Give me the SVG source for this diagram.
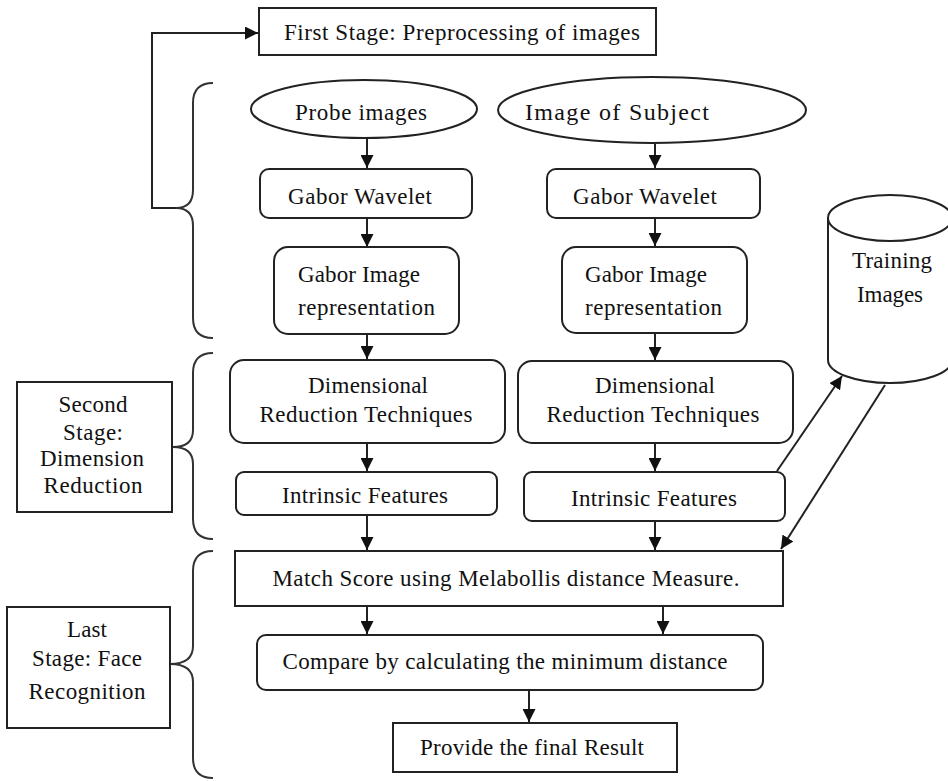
<svg xmlns="http://www.w3.org/2000/svg" width="948" height="781" viewBox="0 0 948 781">
<defs>
<marker id="ah" markerWidth="13" markerHeight="13" viewBox="0 0 13 13" refX="13" refY="6.5" orient="auto" markerUnits="userSpaceOnUse">
<path d="M0,0 L13,6.5 L0,13 Z" fill="#111"/>
</marker>
<style>
.bx{fill:#fff;stroke:#222;stroke-width:2}
.ln{fill:none;stroke:#222;stroke-width:2}
.br{fill:none;stroke:#333;stroke-width:2}
.t{font-family:"Liberation Serif","Times New Roman",serif;font-size:23px;fill:#111;text-anchor:middle}
.ts{font-family:"Liberation Serif","Times New Roman",serif;font-size:23px;fill:#111;text-anchor:start}
</style>
</defs>
<rect width="948" height="781" fill="#fff"/>

<g id="connectors">
<path class="ln" d="M176,208 L152,208 L152,33 L258,33" marker-end="url(#ah)"/>
<path class="ln" d="M367,138 L367,168" marker-end="url(#ah)"/>
<path class="ln" d="M367,218 L367,247" marker-end="url(#ah)"/>
<path class="ln" d="M367,334 L367,359" marker-end="url(#ah)"/>
<path class="ln" d="M367,443 L367,471" marker-end="url(#ah)"/>
<path class="ln" d="M367,515 L367,550" marker-end="url(#ah)"/>
<path class="ln" d="M655,144 L655,168" marker-end="url(#ah)"/>
<path class="ln" d="M655,218 L655,246" marker-end="url(#ah)"/>
<path class="ln" d="M655,333 L655,360" marker-end="url(#ah)"/>
<path class="ln" d="M655,443 L655,471" marker-end="url(#ah)"/>
<path class="ln" d="M655,521 L655,550" marker-end="url(#ah)"/>
<path class="ln" d="M367,606 L367,634" marker-end="url(#ah)"/>
<path class="ln" d="M663,606 L663,634" marker-end="url(#ah)"/>
<path class="ln" d="M529,690 L529,722" marker-end="url(#ah)"/>
<path class="ln" d="M777,471 L842,376" marker-end="url(#ah)"/>
<path class="ln" d="M885,385 L781,549" marker-end="url(#ah)"/>
</g>

<g id="brace1"><path class="br" d="M213,83 Q193,83 193,103 L193,190 Q193,208 176,208 Q193,208 193,226 L193,318 Q193,338 213,338"/></g>
<g id="brace2"><path class="br" d="M213,353 Q193,353 193,373 L193,430 Q193,447 173,447 Q193,447 193,464 L193,519 Q193,539 213,539"/></g>
<g id="brace3"><path class="br" d="M213,551 Q193,551 193,571 L193,646 Q193,664 170,664 Q193,664 193,682 L193,758 Q193,778 213,778"/></g>

<g id="first-stage">
<rect class="bx" x="259" y="8" width="397" height="47"/>
<text class="t" x="462" y="40" textLength="356">First Stage: Preprocessing of images</text>
</g>

<g id="probe-images">
<ellipse class="bx" cx="364" cy="109" rx="113" ry="29"/>
<text class="t" x="361" y="120" textLength="132">Probe images</text>
</g>

<g id="image-of-subject">
<ellipse class="bx" cx="652" cy="110" rx="154" ry="33"/>
<text class="ts" x="525" y="120" style="font-size:24px" textLength="184">Image of Subject</text>
</g>

<g id="gabor-wavelet-left">
<rect class="bx" x="260" y="169" width="212" height="49" rx="9"/>
<text class="t" x="360" y="204" textLength="144">Gabor Wavelet</text>
</g>

<g id="gabor-wavelet-right">
<rect class="bx" x="547" y="169" width="213" height="49" rx="9"/>
<text class="t" x="645" y="204" textLength="144">Gabor Wavelet</text>
</g>

<g id="gabor-image-left">
<rect class="bx" x="274" y="247" width="185" height="87" rx="14"/>
<text class="ts" x="298" y="282" textLength="122">Gabor Image</text>
<text class="ts" x="298" y="315" textLength="137">representation</text>
</g>

<g id="gabor-image-right">
<rect class="bx" x="562" y="247" width="185" height="86" rx="14"/>
<text class="ts" x="585" y="282" textLength="122">Gabor Image</text>
<text class="ts" x="585" y="315" textLength="137">representation</text>
</g>

<g id="dim-red-left">
<rect class="bx" x="230" y="360" width="275" height="83" rx="14"/>
<text class="t" x="368" y="393" textLength="120">Dimensional</text>
<text class="t" x="366" y="422" textLength="213">Reduction Techniques</text>
</g>

<g id="dim-red-right">
<rect class="bx" x="518" y="361" width="275" height="82" rx="14"/>
<text class="t" x="655" y="393" textLength="120">Dimensional</text>
<text class="t" x="653" y="422" textLength="213">Reduction Techniques</text>
</g>

<g id="intrinsic-left">
<rect class="bx" x="236" y="472" width="261" height="43" rx="8"/>
<text class="t" x="365" y="503" textLength="166">Intrinsic Features</text>
</g>

<g id="intrinsic-right">
<rect class="bx" x="524" y="472" width="261" height="49" rx="8"/>
<text class="t" x="654" y="506" textLength="166">Intrinsic Features</text>
</g>

<g id="training-images">
<path class="bx" d="M828,218 L828,360 A62,23 0 0 0 952,360 L952,218"/>
<ellipse class="bx" cx="890" cy="218" rx="62" ry="23"/>
<text class="t" x="892" y="268" textLength="80">Training</text>
<text class="t" x="890" y="302" textLength="66">Images</text>
</g>

<g id="match-score">
<rect class="bx" x="235" y="551" width="548" height="55"/>
<text class="t" x="506" y="586" textLength="467">Match Score using Melabollis distance Measure.</text>
</g>

<g id="compare">
<rect class="bx" x="257" y="635" width="506" height="55" rx="9"/>
<text class="t" x="505" y="669" textLength="445">Compare by calculating the minimum distance</text>
</g>

<g id="final-result">
<rect class="bx" x="393" y="723" width="284" height="49"/>
<text class="t" x="532" y="755" textLength="224">Provide the final Result</text>
</g>

<g id="second-stage">
<rect class="bx" x="17" y="382" width="155" height="130"/>
<text class="t" x="93" y="412" textLength="69">Second</text>
<text class="t" x="93" y="440" textLength="60">Stage:</text>
<text class="t" x="92" y="466" textLength="104">Dimension</text>
<text class="t" x="93" y="493" textLength="99">Reduction</text>
</g>

<g id="last-stage">
<rect class="bx" x="7" y="607" width="163" height="121"/>
<text class="t" x="87" y="637" textLength="40">Last</text>
<text class="t" x="87" y="666" textLength="110">Stage: Face</text>
<text class="t" x="87" y="699" textLength="117">Recognition</text>
</g>
</svg>
